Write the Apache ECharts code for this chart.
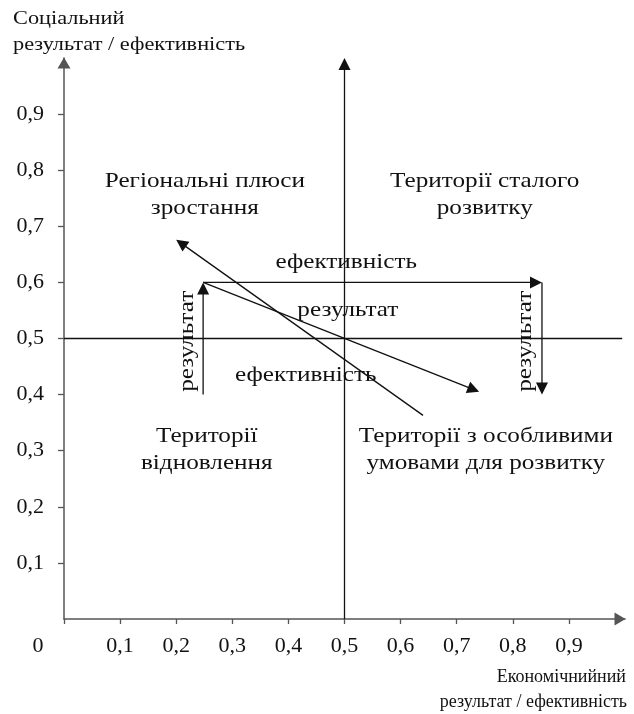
<!DOCTYPE html>
<html>
<head>
<meta charset="utf-8">
<script src="https://cdn.jsdelivr.net/npm/echarts@6/dist/echarts.min.js"></script>
<style>
html,body{margin:0;padding:0;background:#fff;}
#chart{width:634px;height:714px;}
</style>
</head>
<body>
<div id="chart"></div>
<script>
// ---- data ----
const xTickValues = [0, 0.1, 0.2, 0.3, 0.4, 0.5, 0.6, 0.7, 0.8, 0.9];
const yTickValues = [0.1, 0.2, 0.3, 0.4, 0.5, 0.6, 0.7, 0.8, 0.9];
const xTickLabels = ['0,1', '0,2', '0,3', '0,4', '0,5', '0,6', '0,7', '0,8', '0,9'];
const yTickLabels = ['0,1', '0,2', '0,3', '0,4', '0,5', '0,6', '0,7', '0,8', '0,9'];
const originLabel = '0';
const xAxisTitleLines = ['Економічнийний', 'результат / ефективність'];
const yAxisTitle = 'Соціальний\nрезультат / ефективність';

// segments: [x1, y1, x2, y2, arrowhead(1/0)]
const quadrantVertical = [0.5, 0, 0.5, 1.0, 1];
const quadrantHorizontal = [0, 0.5, 0.995, 0.5, 0];
const arrowResultLeft = [0.248, 0.4, 0.248, 0.6, 1];
const arrowEfficiencyTop = [0.248, 0.6, 0.852, 0.6, 1];
const arrowResultRight = [0.852, 0.6, 0.852, 0.4, 1];
const arrowMiddle = [0.248, 0.6, 0.74, 0.405, 1];
const arrowDiagonal = [0.64, 0.363, 0.2, 0.676, 1];

// text annotations: [x, y, text, rotate]
const regionLabels = [
  [0.251, 0.756, 'Регіональні плюси\nзростання', 0],
  [0.75, 0.756, 'Території сталого\nрозвитку', 0],
  [0.2545, 0.302, 'Території\nвідновлення', 0],
  [0.752, 0.302, 'Території з особливими\nумовами для розвитку', 0]
];
const arrowLabels = [
  [0.503, 0.635, 'ефективність', 0],
  [0.506, 0.55, 'результат', 0],
  [0.431, 0.434, 'ефективність', 0],
  [0.22, 0.495, 'результат', 90],
  [0.823, 0.495, 'результат', 90]
];

// ---- chart ----
const SERIF = '"Liberation Serif", "DejaVu Serif", serif';
const INK = '#111';
const AXIS = '#555';

function renderSegment(params, api) {
  const p1 = api.coord([api.value(0), api.value(1)]);
  const p2 = api.coord([api.value(2), api.value(3)]);
  const head = api.value(4);
  const dx = p2[0] - p1[0], dy = p2[1] - p1[1];
  const len = Math.sqrt(dx * dx + dy * dy) || 1;
  const ux = dx / len, uy = dy / len;
  const L = 12, W = 6;
  const children = [];
  const endX = head ? p2[0] - ux * L * 0.7 : p2[0];
  const endY = head ? p2[1] - uy * L * 0.7 : p2[1];
  children.push({
    type: 'line',
    shape: { x1: p1[0], y1: p1[1], x2: endX, y2: endY },
    style: { stroke: INK, lineWidth: 1.3 }
  });
  if (head) {
    const bx = p2[0] - ux * L, by = p2[1] - uy * L;
    children.push({
      type: 'polygon',
      shape: { points: [[p2[0], p2[1]], [bx - uy * W, by + ux * W], [bx + uy * W, by - ux * W]] },
      style: { fill: INK }
    });
  }
  return { type: 'group', children };
}

function makeTextRenderer(list) {
  return function (params, api) {
    const item = list[params.dataIndex];
    const p = api.coord([api.value(0), api.value(1)]);
    return {
      type: 'text',
      x: p[0], y: p[1],
      rotation: item[3] * Math.PI / 180,
      scaleX: 1.2,
      style: {
        text: item[2], fontFamily: SERIF, fontSize: 21, fill: INK,
        align: 'center', verticalAlign: 'middle', lineHeight: 27
      }
    };
  };
}

const chart = echarts.init(document.getElementById('chart'));
chart.setOption({
  backgroundColor: '#fff',
  animation: false,
  grid: { left: 64, right: 9, top: 58, bottom: 95, containLabel: false },
  xAxis: {
    type: 'value', min: 0, max: 1, interval: 0.1,
    splitLine: { show: false },
    axisLine: { show: true, onZero: false, lineStyle: { color: AXIS, width: 1.5 }, symbol: ['none', 'triangle'], symbolSize: [13, 11], symbolOffset: [0, -5] },
    axisTick: { show: true, length: 5, lineStyle: { color: AXIS, width: 1.3 }, customValues: xTickValues },
    axisLabel: {
      margin: 16, fontFamily: SERIF, fontSize: 22, color: INK,
      formatter: function (v) { const i = Math.round(v * 10); return (i >= 1 && i <= 9) ? xTickLabels[i - 1] : ''; }
    }
  },
  yAxis: {
    type: 'value', min: 0, max: 1, interval: 0.1,
    splitLine: { show: false },
    axisLine: { show: true, onZero: false, lineStyle: { color: AXIS, width: 1.5 }, symbol: ['none', 'triangle'], symbolSize: [13, 11], symbolOffset: [0, -5] },
    axisTick: { show: true, length: 6, lineStyle: { color: AXIS, width: 1.3 }, customValues: yTickValues },
    axisLabel: {
      margin: 20, fontFamily: SERIF, fontSize: 22, color: INK,
      formatter: function (v) { const i = Math.round(v * 10); return (i >= 1 && i <= 9) ? yTickLabels[i - 1] : ''; }
    }
  },
  series: [
    {
      type: 'custom',
      renderItem: renderSegment,
      encode: { x: [0, 2], y: [1, 3] },
      data: [quadrantVertical, quadrantHorizontal, arrowResultLeft, arrowEfficiencyTop, arrowResultRight, arrowMiddle, arrowDiagonal],
      clip: false, silent: true, z: 3
    },
    {
      type: 'custom', silent: true, z: 4,
      renderItem: makeTextRenderer(regionLabels),
      encode: { x: 0, y: 1 },
      data: regionLabels.map(function (t) { return [t[0], t[1]]; })
    },
    {
      type: 'custom', silent: true, z: 5,
      renderItem: makeTextRenderer(arrowLabels),
      encode: { x: 0, y: 1 },
      data: arrowLabels.map(function (t) { return [t[0], t[1]]; })
    }
  ],
  graphic: [
    {
      type: 'text', x: 13, y: 6, scaleX: 1.24, silent: true,
      style: { text: yAxisTitle, font: '18px ' + SERIF, fill: INK, lineHeight: 26 }
    },
    {
      type: 'text', x: 626, y: 677, silent: true,
      style: { text: xAxisTitleLines[0], font: '18px ' + SERIF, fill: INK, align: 'right', verticalAlign: 'middle' }
    },
    {
      type: 'text', x: 627, y: 702, silent: true,
      style: { text: xAxisTitleLines[1], font: '18px ' + SERIF, fill: INK, align: 'right', verticalAlign: 'middle' }
    },
    {
      type: 'text', x: 38, y: 646, silent: true,
      style: { text: originLabel, font: '22px ' + SERIF, fill: INK, align: 'center', verticalAlign: 'middle' }
    }
  ]
});
</script>
</body>
</html>
